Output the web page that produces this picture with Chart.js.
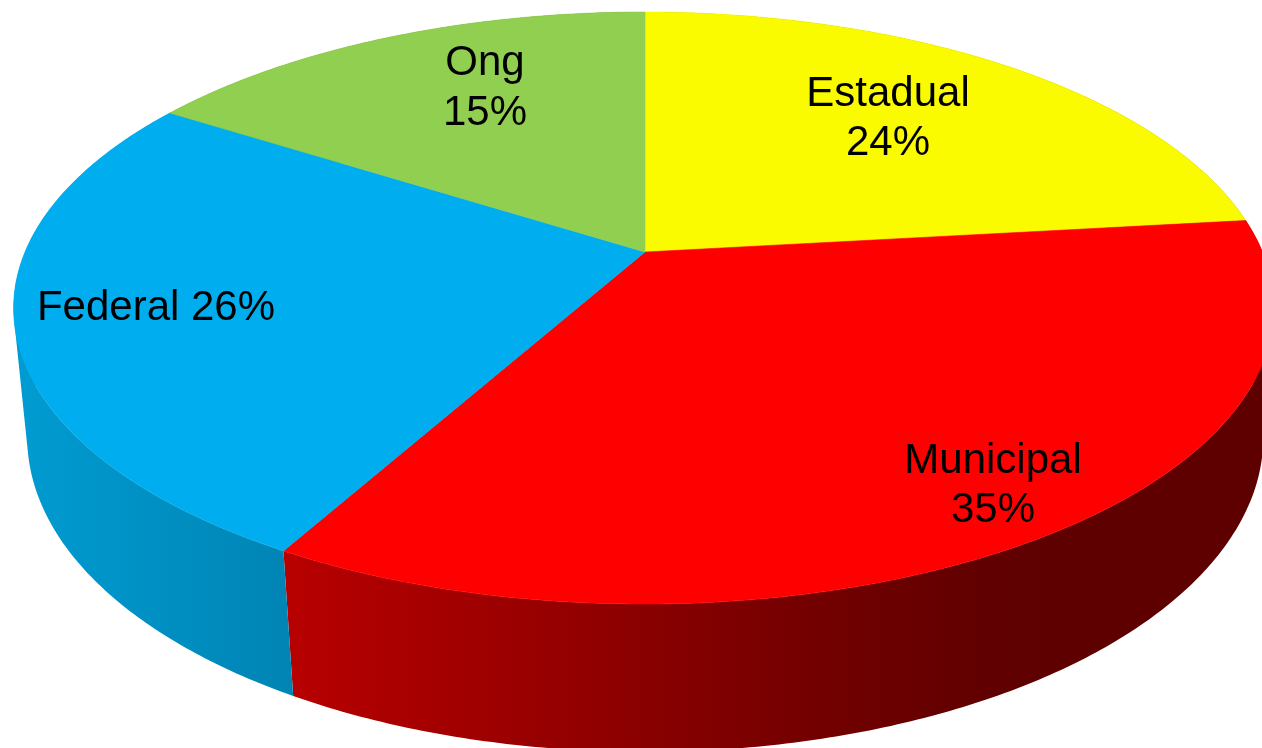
<!DOCTYPE html>
<html>
<head>
<meta charset="utf-8">
<title>Pie</title>
<script src="https://cdn.jsdelivr.net/npm/chart.js@4"></script>
<style>
    html, body { margin: 0; padding: 0; background: #ffffff; }
    canvas { display: block; }
</style>
</head>
<body>
<canvas id="chart" width="1262" height="748"></canvas>
<script>
const categories = ['Estadual', 'Municipal', 'Federal', 'Ong'];
// slice sizes as measured on the drawn rim; they differ a little from the printed labels
const sliceValues = [23.2, 34.9, 25.9, 16];
const printedPercents = ['24%', '35%', '26%', '15%'];

const sliceColors = ['#FBFB00', '#FF0000', '#00AEEF', '#91CF50'];
const wallStops = [
    [[0, '#999900'], [1, '#666600']],
    [[0, '#b80000'], [0.32, '#900000'], [0.52, '#750000'], [0.72, '#600000'], [1, '#5e0000']],
    [[0, '#009cd2'], [1, '#0084b4']],
    [[0, '#6f9e3c'], [1, '#587e30']]
];

// label text: centre x and baseline of each line
const labelLayout = [
    { x: 888, lines: [[categories[0], 106], [printedPercents[0], 155]] },
    { x: 993, lines: [[categories[1], 473], [printedPercents[1], 522]] },
    { x: 156, lines: [[categories[2] + ' ' + printedPercents[2], 320]] },
    { x: 485, lines: [[categories[3], 75], [printedPercents[3], 125]] }
];

// Projection of the unit disc (u right, v towards viewer, z down) onto the page
const camera = { cx: 645, cy: 252, a: 618.7, b: 285.4, tiltU: 0.002, tiltV: -0.1892, depthW: 0.0188, depthY: 129.3, depthX: 1.5 };

function project(u, v, z) {
    const w = 1 + camera.tiltU * u + camera.tiltV * v + camera.depthW * z;
    return {
        x: camera.cx + (camera.a * u + camera.depthX * z) / w,
        y: camera.cy + (camera.b * v + camera.depthY * z) / w
    };
}

function rimPoints(startAngle, endAngle, z) {
    const steps = Math.max(2, Math.ceil((endAngle - startAngle) / 0.01));
    const points = [];
    for (let i = 0; i <= steps; i++) {
        const t = startAngle + (endAngle - startAngle) * i / steps;
        points.push(project(Math.cos(t), Math.sin(t), z));
    }
    return points;
}

function drawWall(ctx, arc, stops) {
    const top = rimPoints(arc.startAngle, arc.endAngle, 0);
    const bottom = rimPoints(arc.startAngle, arc.endAngle, 1);
    const xs = top.concat(bottom).map(p => p.x);
    const gradient = ctx.createLinearGradient(Math.min(...xs), 0, Math.max(...xs), 0);
    stops.forEach(s => gradient.addColorStop(s[0], s[1]));

    // one path of consistently wound quads, so the silhouette comes out as their union
    ctx.beginPath();
    for (let i = 0; i < top.length - 1; i++) {
        let quad = [top[i], top[i + 1], bottom[i + 1], bottom[i]];
        let area = 0;
        quad.forEach((p, j) => {
            const q = quad[(j + 1) % 4];
            area += p.x * q.y - q.x * p.y;
        });
        if (area < 0) quad = quad.reverse();
        quad.forEach((p, j) => j === 0 ? ctx.moveTo(p.x, p.y) : ctx.lineTo(p.x, p.y));
        ctx.closePath();
    }
    ctx.fillStyle = gradient;
    ctx.fill('nonzero');
}

function drawTop(ctx, arc) {
    const apex = project(0, 0, 0);
    ctx.beginPath();
    ctx.moveTo(apex.x, apex.y);
    rimPoints(arc.startAngle, arc.endAngle, 0).forEach(p => ctx.lineTo(p.x, p.y));
    ctx.closePath();
    ctx.fillStyle = arc.options.backgroundColor;
    ctx.strokeStyle = arc.options.backgroundColor;
    ctx.lineWidth = 0.6;
    ctx.fill();
    ctx.stroke();
}

const pie3d = {
    id: 'pie3d',
    beforeDatasetDraw(chart, args) {
        const ctx = chart.ctx;
        const arcs = args.meta.data;
        ctx.save();
        arcs.forEach((arc, i) => drawWall(ctx, arc, wallStops[i]));
        arcs.forEach(arc => drawTop(ctx, arc));
        ctx.restore();
        return false;
    },
    afterDatasetsDraw(chart) {
        const ctx = chart.ctx;
        ctx.save();
        ctx.font = '42px "Liberation Sans", Arial, sans-serif';
        ctx.fillStyle = '#000000';
        ctx.textAlign = 'center';
        ctx.textBaseline = 'alphabetic';
        labelLayout.forEach(label => {
            label.lines.forEach(line => ctx.fillText(line[0], label.x, line[1]));
        });
        ctx.restore();
    }
};

new Chart(document.getElementById('chart').getContext('2d'), {
    type: 'pie',
    data: {
        labels: categories,
        datasets: [{
            data: sliceValues,
            backgroundColor: sliceColors,
            borderWidth: 0
        }]
    },
    options: {
        responsive: false,
        animation: false,
        plugins: {
            legend: { display: false },
            tooltip: { enabled: false }
        }
    },
    plugins: [pie3d]
});
</script>
</body>
</html>
